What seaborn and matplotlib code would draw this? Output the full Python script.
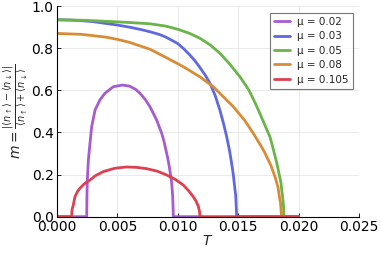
import pandas as pd
import numpy as np
import matplotlib
matplotlib.use('Agg')
import matplotlib.pyplot as plt
import seaborn as sns

# magnetisation m(T), one array pair per chemical potential
mu_labels = ['μ = 0.02', 'μ = 0.03', 'μ = 0.05', 'μ = 0.08', 'μ = 0.105']
colors = ['#a65bd0', '#6068e0', '#6ab44a', '#d98c35', '#de4050']

T_002 = [0.0, 0.00246, 0.00248, 0.00251, 0.0026, 0.00273, 0.00287, 0.00315, 0.00356,
         0.00397, 0.00466, 0.0054, 0.006, 0.0065, 0.00687, 0.0073, 0.0077, 0.00825,
         0.00867, 0.00885, 0.00902, 0.00918, 0.0093, 0.0094, 0.0095, 0.00958, 0.00961,
         0.00963, 0.012]
m_002 = [0.0, 0.0, 0.1, 0.174, 0.27, 0.348, 0.427, 0.506, 0.555,
         0.586, 0.617, 0.625, 0.62, 0.605, 0.586, 0.557, 0.522, 0.459,
         0.396, 0.36, 0.317, 0.275, 0.237, 0.2, 0.158, 0.095, 0.05,
         0.0, 0.0]

T_003 = [0.0, 0.001, 0.002, 0.003, 0.004, 0.005, 0.006, 0.007, 0.0077, 0.0085,
         0.009, 0.0095, 0.01, 0.0105, 0.011, 0.0115, 0.01184, 0.0123, 0.01267, 0.0131,
         0.01349, 0.0138, 0.01405, 0.0143, 0.01446, 0.0146, 0.01474, 0.0148, 0.01488, 0.02]
m_003 = [0.935, 0.934, 0.931, 0.926, 0.918, 0.91, 0.90, 0.888, 0.878, 0.865,
         0.853, 0.838, 0.822, 0.797, 0.768, 0.735, 0.708, 0.67, 0.633, 0.575,
         0.506, 0.44, 0.38, 0.31, 0.253, 0.2, 0.127, 0.1, 0.0, 0.0]

T_005 = [0.0, 0.002, 0.004, 0.005, 0.006, 0.0077, 0.009, 0.01, 0.011, 0.01184,
         0.0127, 0.01349, 0.0143, 0.01515, 0.0155, 0.0159, 0.0162, 0.01653, 0.0168,
         0.0171, 0.0174, 0.01763, 0.0178, 0.018, 0.0182, 0.01832, 0.0184, 0.01855,
         0.0186, 0.01868, 0.01876, 0.01879, 0.02]
m_005 = [0.935, 0.933, 0.928, 0.925, 0.922, 0.916, 0.905, 0.89, 0.87, 0.847,
         0.815, 0.776, 0.725, 0.664, 0.635, 0.6, 0.565, 0.525, 0.49,
         0.45, 0.41, 0.38, 0.345, 0.3, 0.255, 0.222, 0.2, 0.16,
         0.13, 0.095, 0.05, 0.0, 0.0]

T_008 = [0.0, 0.002, 0.004, 0.005, 0.006, 0.0077, 0.009, 0.01046, 0.01184, 0.01294,
         0.0146, 0.0155, 0.0158, 0.01625, 0.0169, 0.0172, 0.01736, 0.0177, 0.01805,
         0.01815, 0.0183, 0.01846, 0.0185, 0.0186, 0.02]
m_008 = [0.87, 0.866, 0.853, 0.842, 0.828, 0.795, 0.757, 0.712, 0.664, 0.617,
         0.522, 0.46, 0.435, 0.396, 0.335, 0.305, 0.285, 0.245, 0.19,
         0.17, 0.14, 0.079, 0.07, 0.0, 0.0]

T_0105 = [0.0, 0.00121, 0.00125, 0.00133, 0.00149, 0.0017, 0.0019, 0.0023, 0.00273,
          0.0032, 0.00383, 0.0048, 0.00577, 0.0066, 0.00742, 0.0083, 0.00908, 0.0098,
          0.01046, 0.0109, 0.01128, 0.0115, 0.0117, 0.0118, 0.01184, 0.02]
m_0105 = [0.0, 0.0, 0.035, 0.05, 0.095, 0.12, 0.135, 0.158, 0.174,
          0.195, 0.214, 0.23, 0.236, 0.234, 0.228, 0.216, 0.198, 0.177,
          0.15, 0.123, 0.095, 0.075, 0.05, 0.025, 0.0, 0.0]

series = [(T_002, m_002), (T_003, m_003), (T_005, m_005), (T_008, m_008), (T_0105, m_0105)]
frames = []
for label, (T, m) in zip(mu_labels, series):
    frames.append(pd.DataFrame({'T': T, 'm': m, 'mu': label}))
df = pd.concat(frames, ignore_index=True)

sns.set_theme(style="whitegrid")
plt.rcParams['font.family'] = ['DejaVu Sans']
plt.rcParams['mathtext.fontset'] = 'dejavusans'

fig = plt.figure(figsize=(3.81, 2.54), dpi=100)
ax = fig.add_axes([0.1496, 0.147, 0.7924, 0.829])

sns.lineplot(data=df, x='T', y='m', hue='mu', palette=colors, hue_order=mu_labels,
             sort=False, estimator=None, linewidth=2.0, ax=ax)

ax.set_xlim(0, 0.025)
ax.set_ylim(0, 1.0)
ax.set_xticks([0.0, 0.005, 0.010, 0.015, 0.020, 0.025])
ax.set_xticklabels([f"{v:.3f}" for v in ax.get_xticks()])
ax.set_yticks([0.0, 0.2, 0.4, 0.6, 0.8, 1.0])
ax.set_yticklabels([f"{v:.1f}" for v in ax.get_yticks()])
ax.tick_params(axis='both', labelsize=10, direction='in', length=3, width=0.6,
               colors='black', pad=2.5, bottom=True, left=True)
ax.set_facecolor('white')
ax.grid(True, color='#e6e6e6', linewidth=0.6)
for side in ['top', 'right']:
    ax.spines[side].set_visible(False)
for side in ['left', 'bottom']:
    ax.spines[side].set_color('black')
    ax.spines[side].set_linewidth(0.8)

ax.set_xlabel(r'$T$', fontsize=10, labelpad=0)
ax.set_ylabel(r'$m = \frac{|\langle n_\uparrow\rangle - \langle n_\downarrow\rangle|}'
              r'{\langle n_\uparrow\rangle + \langle n_\downarrow\rangle}$',
              fontsize=10, labelpad=1)

leg = ax.legend(title=None, loc='upper right', fontsize=7.5, frameon=True,
                fancybox=False, handlelength=1.6, handletextpad=0.65,
                borderpad=0.4, labelspacing=0.42, borderaxespad=0,
                bbox_to_anchor=(0.980, 0.968))
leg.get_frame().set_edgecolor('#555555')
leg.get_frame().set_linewidth(0.8)

fig.savefig('out.png', dpi=100)
